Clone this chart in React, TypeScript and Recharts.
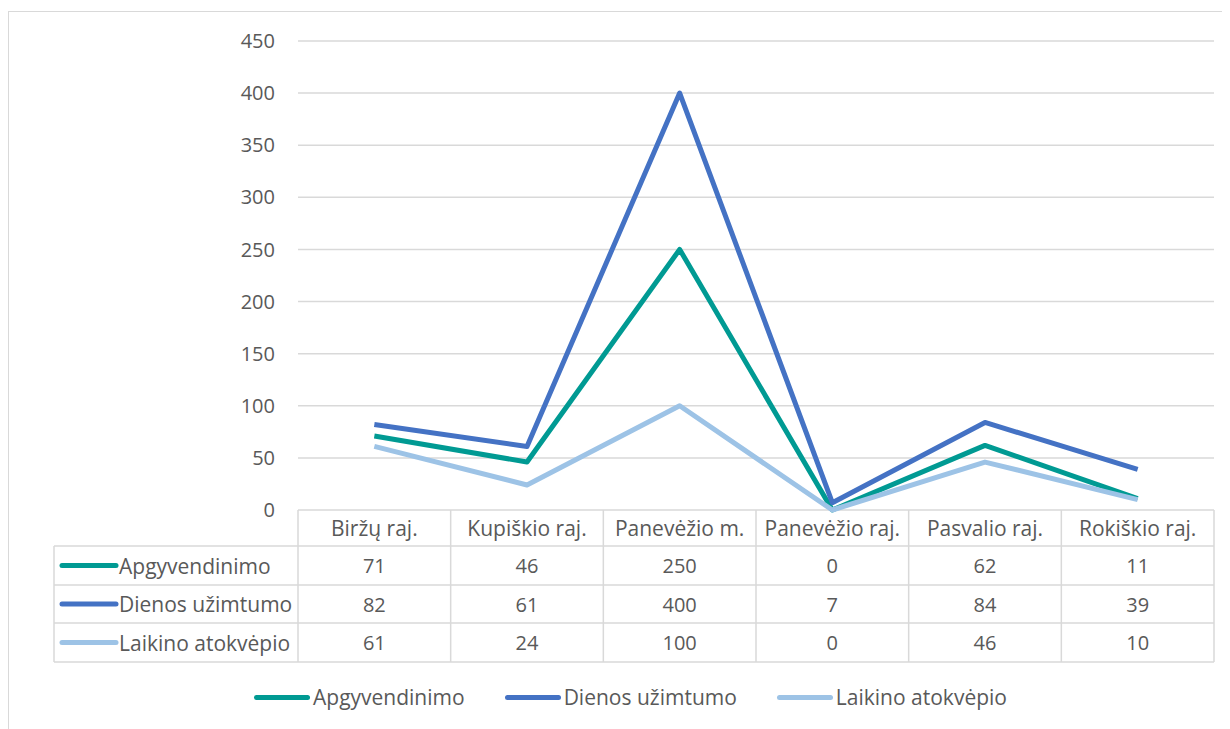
import React from 'react';
import { LineChart, Line, XAxis, YAxis, CartesianGrid, Legend } from 'recharts';

const categories = ['Biržų raj.', 'Kupiškio raj.', 'Panevėžio m.', 'Panevėžio raj.', 'Pasvalio raj.', 'Rokiškio raj.'];
const apgyvendinimo = [71, 46, 250, 0, 62, 11];
const dienosUzimtumo = [82, 61, 400, 7, 84, 39];
const laikinoAtokvepio = [61, 24, 100, 0, 46, 10];
const yTicks = [0, 50, 100, 150, 200, 250, 300, 350, 400, 450];
const xTicks = categories.map((_, i) => i);

const series = [
  { key: 'a', name: 'Apgyvendinimo', color: '#009A93', values: apgyvendinimo },
  { key: 'd', name: 'Dienos užimtumo', color: '#4472C4', values: dienosUzimtumo },
  { key: 'l', name: 'Laikino atokvėpio', color: '#9DC3E6', values: laikinoAtokvepio },
];

const data = categories.map((c, i) => {
  const row: any = { idx: i, name: c };
  series.forEach((s) => (row[s.key] = s.values[i]));
  return row;
});

const W = 1222;
const H = 721;
const M = { top: 33, right: 16, left: 230, bottom: 189 };
const YW = 60;
const XH = 30;
const PLOT_LEFT = M.left + YW;
const PLOT_RIGHT = W - M.right;
const TOP = H - M.bottom - XH;
const COLW = (PLOT_RIGHT - PLOT_LEFT) / categories.length;
const ROWS = [0, 36, 75, 113, 152];
const GRID = '#D9D9D9';
const TXT = '#595959';
const FONT = '"Open Sans", sans-serif';
const FS = 20;
const FSL = 21;
const TABLE_LEFT = 46;

const renderTick = (props: any) => {
  const { x, payload } = props;
  const i = Number(payload.value);
  const cx = x;
  const els: any[] = [];
  els.push(
    <text key="h" x={cx} y={TOP + (ROWS[0] + ROWS[1]) / 2} textAnchor="middle" dominantBaseline="central" fill={TXT} fontSize={FSL} fontFamily={FONT}>
      {categories[i]}
    </text>
  );
  series.forEach((s, r) => {
    els.push(
      <text key={'v' + r} x={cx} y={TOP + (ROWS[r + 1] + ROWS[r + 2]) / 2} textAnchor="middle" dominantBaseline="central" fill={TXT} fontSize={FS} fontFamily={FONT}>
        {s.values[i]}
      </text>
    );
  });
  els.push(<line key="vr" x1={cx + COLW / 2} x2={cx + COLW / 2} y1={TOP} y2={TOP + ROWS[4]} stroke={GRID} strokeWidth={1.5} />);
  if (i === 0) {
    els.push(<line key="vl" x1={cx - COLW / 2} x2={cx - COLW / 2} y1={TOP} y2={TOP + ROWS[4]} stroke={GRID} strokeWidth={1.5} />);
    els.push(<line key="vll" x1={TABLE_LEFT} x2={TABLE_LEFT} y1={TOP + ROWS[1]} y2={TOP + ROWS[4]} stroke={GRID} strokeWidth={1.5} />);
    [1, 2, 3, 4].forEach((k) => {
      els.push(<line key={'hl' + k} x1={TABLE_LEFT} x2={PLOT_RIGHT} y1={TOP + ROWS[k]} y2={TOP + ROWS[k]} stroke={GRID} strokeWidth={1.5} />);
    });
    series.forEach((s, r) => {
      const yc = TOP + (ROWS[r + 1] + ROWS[r + 2]) / 2;
      els.push(<line key={'ls' + r} x1={TABLE_LEFT + 8} x2={TABLE_LEFT + 62} y1={yc} y2={yc} stroke={s.color} strokeWidth={5} strokeLinecap="round" />);
      els.push(
        <text key={'lt' + r} x={TABLE_LEFT + 65} y={yc} dominantBaseline="central" fill={TXT} fontSize={FSL} fontFamily={FONT}>
          {s.name}
        </text>
      );
    });
  }
  return <g>{els}</g>;
};

const renderLegend = (props: any) => {
  const payload = props.payload || [];
  return (
    <div style={{ display: 'flex', alignItems: 'center', fontFamily: FONT, fontSize: FSL, color: TXT }}>
      {payload.map((p: any, i: number) => (
        <div key={i} style={{ display: 'flex', alignItems: 'center', marginRight: 40 }}>
          <span style={{ display: 'inline-block', width: 56, height: 5, borderRadius: 3, background: p.color }} />
          <span style={{ marginLeft: 3 }}>{p.value}</span>
        </div>
      ))}
    </div>
  );
};

export default function App() {
  return (
    <div style={{ position: 'relative', width: W, height: H }}>
      <div style={{ position: 'absolute', left: 0, top: 3, width: W + 20, height: H + 20, border: `1.5px solid ${GRID}`, boxSizing: 'border-box' }} />
      <div style={{ position: 'absolute', left: 0, top: 0 }}>
        <LineChart width={W} height={H} data={data} margin={M}>
          <CartesianGrid horizontal vertical={false} stroke={GRID} strokeWidth={1.5} />
          <XAxis
            dataKey="idx"
            type="number"
            domain={[-0.5, 5.5]}
            ticks={xTicks}
            interval={0}
            axisLine={false}
            tickLine={false}
            height={XH}
            tick={renderTick}
          />
          <YAxis
            domain={[0, 450]}
            ticks={yTicks}
            width={YW}
            axisLine={false}
            tickLine={false}
            tickSize={8}
            tickMargin={15}
            tick={{ fill: TXT, fontSize: FS, fontFamily: FONT }}
          />
          {series.map((s) => (
            <Line
              key={s.key}
              type="linear"
              dataKey={s.key}
              name={s.name}
              stroke={s.color}
              strokeWidth={5}
              strokeLinejoin="round"
              dot={false}
              activeDot={false}
              isAnimationActive={false}
            />
          ))}
          <Legend
            verticalAlign="middle"
            align="center"
            layout="horizontal"
            content={renderLegend}
            wrapperStyle={{ position: 'absolute', top: 675, left: 246, width: 900 }}
          />
        </LineChart>
      </div>
    </div>
  );
}
